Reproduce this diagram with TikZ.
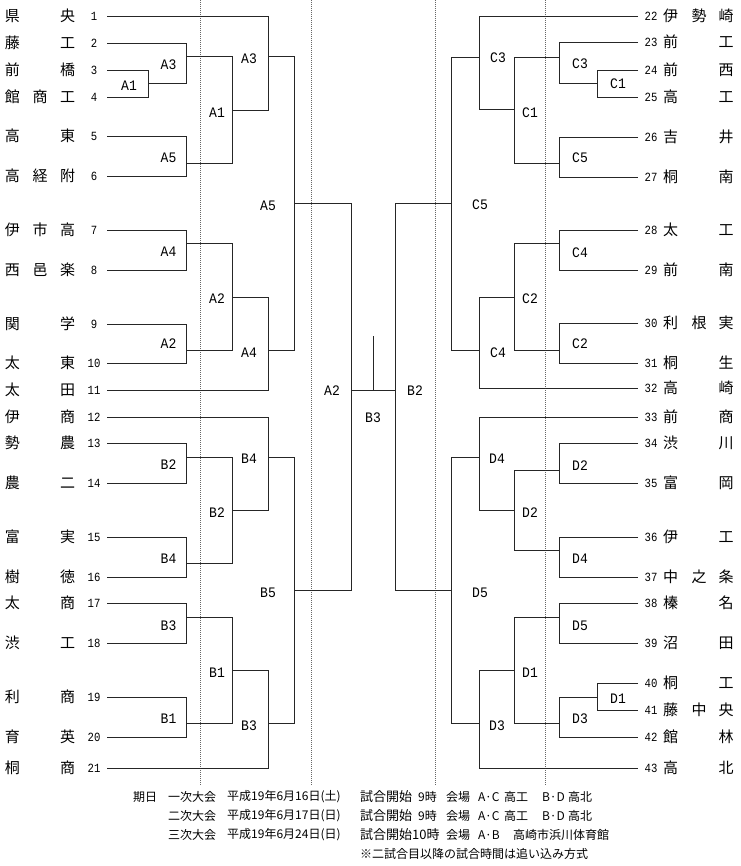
\documentclass[tikz,border=0pt]{standalone}
\usepackage{fontspec}
\newfontfamily\jp{Noto Sans CJK JP}
\newfontfamily\numf[FakeStretch=0.85]{Liberation Mono}
\newfontfamily\labf[FakeStretch=0.9]{Liberation Mono}
\tikzset{
  tn/.style={font=\jp\fontsize{15}{15}\selectfont, inner sep=0pt, anchor=center},
  num/.style={font=\numf\fontsize{12.5}{12.5}\selectfont, inner sep=0pt, anchor=center},
  lab/.style={font=\labf\fontsize{14.5}{14.5}\selectfont, inner sep=0pt, anchor=center},
  ft/.style={font=\jp\fontsize{12}{12}\selectfont, inner sep=0pt, anchor=west},
  ftb/.style={font=\jp\fontsize{13}{13}\selectfont, inner sep=0pt, anchor=west},
  br/.style={draw=black!85, line width=0.8pt},
  sep/.style={draw=black!60, line width=0.6pt, dash pattern=on 1pt off 1pt}
}
\newcommand\lteamii[4]{%
  \node[tn] (la#2) at (12.5,#1) {#3};
  \node[tn] (lc#2) at (67.5,#1) {#4};
  \node[num] (ln#2) at (94,#1) {#2};}
\newcommand\lteamiii[5]{%
  \node[tn] (la#2) at (12.5,#1) {#3};
  \node[tn] (lb#2) at (40,#1) {#4};
  \node[tn] (lc#2) at (67.5,#1) {#5};
  \node[num] (ln#2) at (94,#1) {#2};}
\newcommand\rteamii[4]{%
  \node[num] (rn#2) at (651,#1) {#2};
  \node[tn] (ra#2) at (670.5,#1) {#3};
  \node[tn] (rc#2) at (726,#1) {#4};}
\newcommand\rteamiii[5]{%
  \node[num] (rn#2) at (651,#1) {#2};
  \node[tn] (ra#2) at (670.5,#1) {#3};
  \node[tn] (rb#2) at (699,#1) {#4};
  \node[tn] (rc#2) at (726,#1) {#5};}
\begin{document}
\begin{tikzpicture}[x=1pt,y=-1pt]
\useasboundingbox (0,0) rectangle (740,866);
\fill[white] (0,0) rectangle (740,866);

% separators
\foreach \xx/\nm in {200/s1,311/s2,435/s3,545/s4}{
  \coordinate (\nm t) at (\xx,0);
  \coordinate (\nm b) at (\xx,785);
  \draw[sep] (\nm t) -- (\nm b);
}

% left teams
\lteamii{16}{1}{県}{央}
\lteamii{43}{2}{藤}{工}
\lteamii{70}{3}{前}{橋}
\lteamiii{97}{4}{館}{商}{工}
\lteamii{136}{5}{高}{東}
\lteamiii{176}{6}{高}{経}{附}
\lteamiii{230}{7}{伊}{市}{高}
\lteamiii{270}{8}{西}{邑}{楽}
\lteamii{324}{9}{関}{学}
\lteamii{363}{10}{太}{東}
\lteamii{390}{11}{太}{田}
\lteamii{417}{12}{伊}{商}
\lteamii{443}{13}{勢}{農}
\lteamii{483}{14}{農}{二}
\lteamii{537}{15}{富}{実}
\lteamii{577}{16}{樹}{徳}
\lteamii{603}{17}{太}{商}
\lteamii{643}{18}{渋}{工}
\lteamii{697}{19}{利}{商}
\lteamii{737}{20}{育}{英}
\lteamii{768}{21}{桐}{商}

% right teams
\rteamiii{16}{22}{伊}{勢}{崎}
\rteamii{42}{23}{前}{工}
\rteamii{70}{24}{前}{西}
\rteamii{97}{25}{高}{工}
\rteamii{137}{26}{吉}{井}
\rteamii{177}{27}{桐}{南}
\rteamii{230}{28}{太}{工}
\rteamii{270}{29}{前}{南}
\rteamiii{323}{30}{利}{根}{実}
\rteamii{363}{31}{桐}{生}
\rteamii{388}{32}{高}{崎}
\rteamii{417}{33}{前}{商}
\rteamii{443}{34}{渋}{川}
\rteamii{483}{35}{富}{岡}
\rteamii{537}{36}{伊}{工}
\rteamiii{577}{37}{中}{之}{条}
\rteamii{603}{38}{榛}{名}
\rteamii{643}{39}{沼}{田}
\rteamii{683}{40}{桐}{工}
\rteamiii{710}{41}{藤}{中}{央}
\rteamii{737}{42}{館}{林}
\rteamii{768}{43}{高}{北}

% left bracket A
\draw[br] (107,16) -| (268,110) -- (232,110);
\draw[br] (107,43) -| (186,83) -- (148,83);
\draw[br] (107,70) -| (148,97) -- (107,97);
\draw[br] (186,56) -| (232,163) -- (186,163);
\draw[br] (107,136) -| (186,176) -- (107,176);
\draw[br] (268,56) -| (294,350) -- (268,350);
\draw[br] (107,230) -| (186,270) -- (107,270);
\draw[br] (186,243) -| (232,350) -- (186,350);
\draw[br] (107,324) -| (186,363) -- (107,363);
\draw[br] (232,297) -| (268,390) -- (107,390);
% left bracket B
\draw[br] (107,417) -| (268,510) -- (232,510);
\draw[br] (107,443) -| (186,483) -- (107,483);
\draw[br] (186,457) -| (232,563) -- (186,563);
\draw[br] (107,537) -| (186,577) -- (107,577);
\draw[br] (268,457) -| (294,723) -- (268,723);
\draw[br] (107,603) -| (186,643) -- (107,643);
\draw[br] (186,617) -| (232,723) -- (186,723);
\draw[br] (107,697) -| (186,737) -- (107,737);
\draw[br] (232,670) -| (268,768) -- (107,768);

% center
\draw[br] (294,203) -| (351,590) -- (294,590);
\draw[br] (451,203) -| (395,590) -- (451,590);
\draw[br] (351,390) -- (395,390);
\draw[br] (373,390) -- (373,336);

% right bracket C
\draw[br] (638,16) -| (479,109) -- (514,109);
\draw[br] (638,42) -| (559,83) -- (597,83);
\draw[br] (638,70) -| (597,97) -- (638,97);
\draw[br] (559,57) -| (514,163) -- (559,163);
\draw[br] (638,137) -| (559,177) -- (638,177);
\draw[br] (479,57) -| (451,350) -- (479,350);
\draw[br] (638,230) -| (559,270) -- (638,270);
\draw[br] (559,243) -| (514,350) -- (559,350);
\draw[br] (638,323) -| (559,363) -- (638,363);
\draw[br] (514,297) -| (479,388) -- (638,388);
% right bracket D
\draw[br] (638,417) -| (479,510) -- (514,510);
\draw[br] (638,443) -| (559,483) -- (638,483);
\draw[br] (559,470) -| (514,550) -- (559,550);
\draw[br] (638,537) -| (559,577) -- (638,577);
\draw[br] (479,457) -| (451,723) -- (479,723);
\draw[br] (638,603) -| (559,643) -- (638,643);
\draw[br] (559,617) -| (514,723) -- (559,723);
\draw[br] (638,683) -| (597,710) -- (638,710);
\draw[br] (597,697) -| (559,737) -- (638,737);
\draw[br] (514,670) -| (479,768) -- (638,768);

% labels A
\node[lab] (xa1) at (129,86) {A1};
\node[lab] (xa3) at (168.5,64.5) {A3};
\node[lab] (xa5) at (168.5,158) {A5};
\node[lab] (xa1b) at (217,113) {A1};
\node[lab] (xa3b) at (249,59) {A3};
\node[lab] (xa4) at (168.5,252) {A4};
\node[lab] (xa2) at (168.5,344) {A2};
\node[lab] (xa2b) at (217,299) {A2};
\node[lab] (xa4b) at (249,353) {A4};
\node[lab] (xa5b) at (268,206) {A5};
% labels B
\node[lab] (xb2) at (168.5,465) {B2};
\node[lab] (xb2b) at (217,513) {B2};
\node[lab] (xb4b) at (249,459) {B4};
\node[lab] (xb4) at (168.5,559) {B4};
\node[lab] (xb5) at (268,593) {B5};
\node[lab] (xb3) at (168.5,626) {B3};
\node[lab] (xb1b) at (217,673) {B1};
\node[lab] (xb1) at (168.5,719) {B1};
\node[lab] (xb3b) at (249,726) {B3};
% center labels
\node[lab] (fa2) at (332,391) {A2};
\node[lab] (fb3) at (373,418) {B3};
\node[lab] (fb2) at (415,391) {B2};
% labels C
\node[lab] (xc3b) at (498,58) {C3};
\node[lab] (xc3) at (580,64) {C3};
\node[lab] (xc1) at (618,84) {C1};
\node[lab] (xc1b) at (530,113) {C1};
\node[lab] (xc5) at (580,158) {C5};
\node[lab] (xc5b) at (480,205) {C5};
\node[lab] (xc4) at (580,253) {C4};
\node[lab] (xc2b) at (530,299) {C2};
\node[lab] (xc2) at (580,344) {C2};
\node[lab] (xc4b) at (498,353) {C4};
% labels D
\node[lab] (xd4b) at (497,459) {D4};
\node[lab] (xd2) at (580,466) {D2};
\node[lab] (xd2b) at (530,513) {D2};
\node[lab] (xd4) at (580,559) {D4};
\node[lab] (xd5b) at (480,593) {D5};
\node[lab] (xd5) at (580,626) {D5};
\node[lab] (xd1b) at (530,673) {D1};
\node[lab] (xd1) at (618,699) {D1};
\node[lab] (xd3) at (580,719) {D3};
\node[lab] (xd3b) at (497,726) {D3};

% footer
\node[ft] (f11) at (133,797) {期日};
\node[ft] (f12) at (168,797) {一次大会};
\node[ft] (f13) at (227,797) {平成19年6月16日(土)};
\node[ftb] (f14) at (360,797) {試合開始};
\node[ft] (f15) at (418,797) {9時};
\node[ft] (f16) at (446,797) {会場};
\node[ft] (f17) at (478,797) {A·C};
\node[ft] (f18) at (504,797) {高工};
\node[ft] (f19) at (542,797) {B·D};
\node[ft] (f1a) at (568,797) {高北};
\node[ft] (f22) at (168,816) {二次大会};
\node[ft] (f23) at (227,816) {平成19年6月17日(日)};
\node[ftb] (f24) at (360,816) {試合開始};
\node[ft] (f25) at (418,816) {9時};
\node[ft] (f26) at (446,816) {会場};
\node[ft] (f27) at (478,816) {A·C};
\node[ft] (f28) at (504,816) {高工};
\node[ft] (f29) at (542,816) {B·D};
\node[ft] (f2a) at (568,816) {高北};
\node[ft] (f32) at (168,835) {三次大会};
\node[ft] (f33) at (227,835) {平成19年6月24日(日)};
\node[ftb] (f34) at (360,835) {試合開始10時};
\node[ft] (f36) at (446,835) {会場};
\node[ft] (f37) at (478,835) {A·B};
\node[ft] (f38) at (513,835) {高崎市浜川体育館};
\node[ft] (f44) at (360,854) {※二試合目以降の試合時間は追い込み方式};
\end{tikzpicture}
\end{document}
